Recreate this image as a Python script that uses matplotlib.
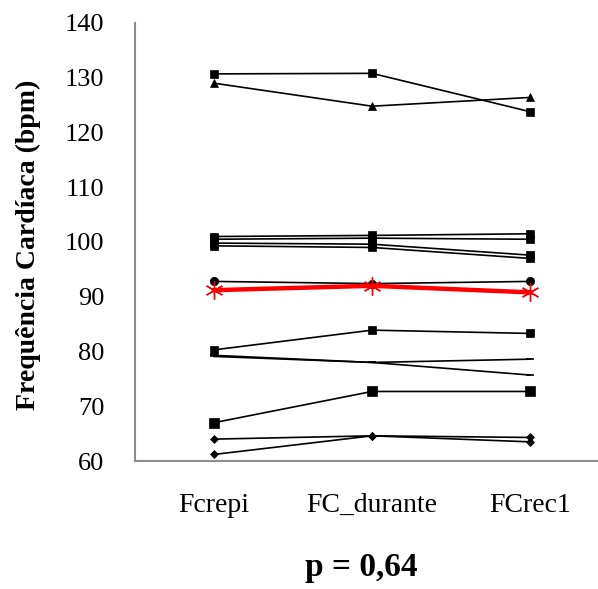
import matplotlib
matplotlib.use("Agg")
import matplotlib.pyplot as plt

plt.rcParams["font.family"] = ["Liberation Serif", "DejaVu Serif"]

categories = ["Fcrepi", "FC_durante", "FCrec1"]

# one list per subject (bpm at the three moments)
s_sq_130 = [130.7, 130.8, 123.8]
s_tri_129 = [129.0, 124.8, 126.4]
s_sq_101 = [101.0, 101.2, 101.5]
s_sq_100a = [100.5, 100.7, 100.5]
s_sq_100b = [99.8, 99.6, 97.6]
s_sq_99 = [99.3, 99.0, 97.0]
s_circ_93 = [92.8, 92.4, 92.8]
s_sq_80 = [80.3, 83.9, 83.3]
s_dash_79a = [79.3, 78.0, 78.6]
s_dash_79b = [79.1, 78.0, 75.7]
s_sq_67 = [67.0, 72.7, 72.7]
s_dia_64 = [64.0, 64.6, 64.3]
s_dia_61 = [61.2, 64.6, 63.5]
mean_fc = [91.2, 92.0, 90.8]

subjects = [
    (s_sq_130, "s", 6),
    (s_tri_129, "^", 6),
    (s_sq_101, "s", 6),
    (s_sq_100a, "s", 6),
    (s_sq_100b, "s", 6),
    (s_sq_99, "s", 6),
    (s_circ_93, "o", 6),
    (s_sq_80, "s", 6),
    (s_dash_79a, "_", 6),
    (s_dash_79b, "_", 6),
    (s_sq_67, "s", 7),
    (s_dia_64, "D", 4.5),
    (s_dia_61, "D", 4.5),
]

x = [1, 2, 3]

fig = plt.figure(figsize=(5.98, 5.89), dpi=100)
ax = fig.add_axes([0.2258, 0.2173, 0.7742, 0.7437])

for vals, mk, ms in subjects:
    ax.plot(x, vals, color="black", linewidth=1.2, marker=mk,
            markersize=ms, markeredgewidth=1.2 if mk == "_" else 0.5)

ax.plot(x, mean_fc, color="#ff0000", linewidth=3.2, marker=(6, 2, 0),
        markersize=13, markeredgewidth=1.0, zorder=5)

ax.set_xlim(0.5, 3.43)
ax.set_ylim(60, 140)
ax.set_yticks(range(60, 141, 10))
ax.set_xticks(x)
ax.set_xticklabels(categories)

for side in ("top", "right"):
    ax.spines[side].set_visible(False)
for side in ("left", "bottom"):
    ax.spines[side].set_color("#8c8c8c")
    ax.spines[side].set_linewidth(1.5)

ax.tick_params(axis="both", length=0)
ax.tick_params(axis="x", pad=23, labelsize=20)
ax.tick_params(axis="y", pad=22, labelsize=19)

fig.text(0.047, 0.584, "Frequência Cardíaca (bpm)", rotation=90,
         ha="center", va="center", fontsize=20, fontweight="bold")

fig.text(0.605, 0.037, "p = 0,64", ha="center", va="center",
         fontsize=24, fontweight="bold")

fig.savefig("out.png", dpi=100)
